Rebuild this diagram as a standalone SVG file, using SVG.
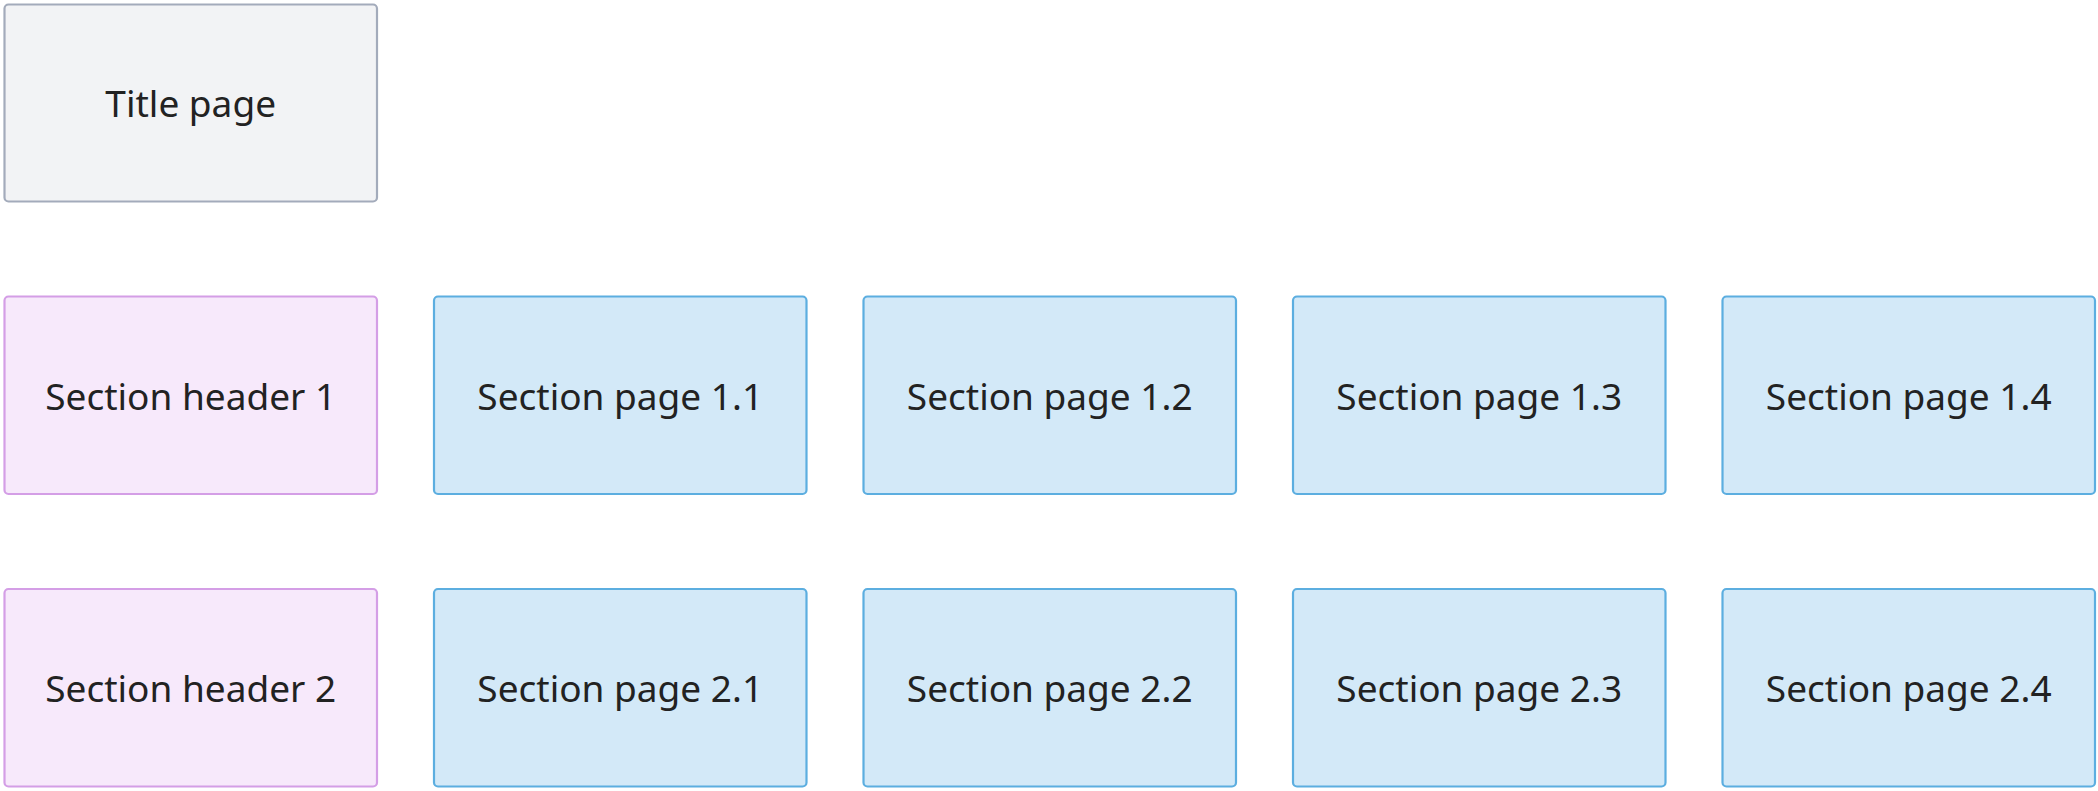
<svg xmlns="http://www.w3.org/2000/svg" width="2098" height="791" viewBox="0 0 2098 791">
<style>
rect{stroke-width:2.2}
.t rect{fill:#f2f3f5;stroke:#a3abbb}
.h rect{fill:#f7e9fb;stroke:#d49ee6}
.p rect{fill:#d3e9f8;stroke:#5caee0}
text{font-family:"Noto Sans","Open Sans",sans-serif;font-size:37px;fill:#222222;text-anchor:middle}
</style>
<rect width="2098" height="791" fill="#ffffff" style="stroke:none"/>
<g id="connectors"></g>
<g id="title" class="t"><rect x="4.5" y="4.5" width="372.5" height="197" rx="4"/><text x="190.7" y="117">Title page</text></g>
<g id="header1" class="h"><rect x="4.5" y="296.5" width="372.5" height="197.5" rx="4"/><text x="190.7" y="409.5">Section header 1</text></g>
<g id="page11" class="p"><rect x="434" y="296.5" width="372.5" height="197.5" rx="4"/><text x="620.2" y="409.5">Section page 1.1</text></g>
<g id="page12" class="p"><rect x="863.5" y="296.5" width="372.5" height="197.5" rx="4"/><text x="1049.7" y="409.5">Section page 1.2</text></g>
<g id="page13" class="p"><rect x="1293" y="296.5" width="372.5" height="197.5" rx="4"/><text x="1479.2" y="409.5">Section page 1.3</text></g>
<g id="page14" class="p"><rect x="1722.5" y="296.5" width="372.5" height="197.5" rx="4"/><text x="1908.7" y="409.5">Section page 1.4</text></g>
<g id="header2" class="h"><rect x="4.5" y="589" width="372.5" height="197.5" rx="4"/><text x="190.7" y="702">Section header 2</text></g>
<g id="page21" class="p"><rect x="434" y="589" width="372.5" height="197.5" rx="4"/><text x="620.2" y="702">Section page 2.1</text></g>
<g id="page22" class="p"><rect x="863.5" y="589" width="372.5" height="197.5" rx="4"/><text x="1049.7" y="702">Section page 2.2</text></g>
<g id="page23" class="p"><rect x="1293" y="589" width="372.5" height="197.5" rx="4"/><text x="1479.2" y="702">Section page 2.3</text></g>
<g id="page24" class="p"><rect x="1722.5" y="589" width="372.5" height="197.5" rx="4"/><text x="1908.7" y="702">Section page 2.4</text></g>
</svg>
